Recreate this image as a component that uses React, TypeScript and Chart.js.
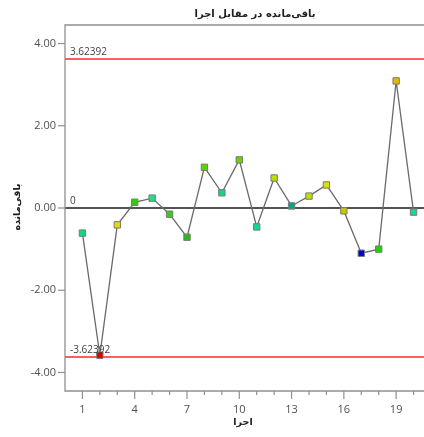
import { useEffect, useRef } from 'react';
import { Chart, registerables } from 'chart.js';

Chart.register(...registerables);

const runs = [1, 2, 3, 4, 5, 6, 7, 8, 9, 10, 11, 12, 13, 14, 15, 16, 17, 18, 19, 20];
const residuals = [-0.61, -3.58, -0.41, 0.14, 0.24, -0.15, -0.71, 0.99, 0.37, 1.17, -0.46, 0.73, 0.05, 0.29, 0.56, -0.07, -1.1, -1.0, 3.09, -0.1];
const pointColors = [
  '#10d880', '#e00000', '#e8d800', '#30d000', '#20e080', '#30d010', '#20c010', '#60d000', '#10d880', '#70d000',
  '#10d890', '#b8e000', '#00a888', '#c0e000', '#d8e000', '#c8c800', '#0000d0', '#20d000', '#e8b800', '#10d8a0',
];
const upperLimit = 3.62392;
const lowerLimit = -3.62392;
const centerLine = 0;
const xLabeledTicks = [1, 4, 7, 10, 13, 16, 19];
const yTickValues = [-4, -2, 0, 2, 4];
const chartTitle = 'باقی‌مانده در مقابل اجرا';
const xTitle = 'اجرا';
const yTitle = 'باقی‌مانده';

const CANVAS_W = 440;
const CANVAS_H = 437;

export default function App() {
  const ref = useRef<HTMLCanvasElement | null>(null);

  useEffect(() => {
    if (!ref.current) return;
    const axisPlugin = {
      id: 'customAxes',
      afterDraw(chart: any) {
        const ctx = chart.ctx as CanvasRenderingContext2D;
        const a = chart.chartArea;
        const xs = chart.scales.x;
        const ys = chart.scales.y;
        ctx.save();
        // frame
        ctx.strokeStyle = '#909090';
        ctx.lineWidth = 1.3;
        ctx.beginPath();
        ctx.moveTo(a.right + 20, a.top);
        ctx.lineTo(a.left, a.top);
        ctx.lineTo(a.left, a.bottom);
        ctx.lineTo(a.right + 20, a.bottom);
        ctx.stroke();
        // y ticks
        ctx.fillStyle = '#505050';
        ctx.font = '11px "Open Sans", "Noto Sans", sans-serif';
        ctx.textAlign = 'right';
        ctx.textBaseline = 'middle';
        ctx.lineWidth = 1.2;
        yTickValues.forEach((v) => {
          const py = ys.getPixelForValue(v);
          ctx.beginPath();
          ctx.moveTo(a.left - 7, py);
          ctx.lineTo(a.left, py);
          ctx.stroke();
          ctx.fillText(v.toFixed(2), a.left - 9, py);
        });
        // x ticks
        ctx.textAlign = 'center';
        ctx.textBaseline = 'top';
        runs.forEach((r) => {
          const px = xs.getPixelForValue(r);
          const major = xLabeledTicks.includes(r);
          ctx.beginPath();
          ctx.moveTo(px, a.bottom);
          ctx.lineTo(px, a.bottom + (major ? 8 : 4));
          ctx.stroke();
          if (major) ctx.fillText(String(r), px, a.bottom + 13);
        });
        // reference labels
        ctx.fillStyle = '#404040';
        ctx.font = '10px "Open Sans", "Noto Sans", sans-serif';
        ctx.textAlign = 'left';
        ctx.textBaseline = 'alphabetic';
        const refLabels: [number, string][] = [
          [upperLimit, String(upperLimit)],
          [lowerLimit, String(lowerLimit)],
          [centerLine, String(centerLine)],
        ];
        refLabels.forEach(([v, t]) => {
          ctx.fillText(t, a.left + 5, ys.getPixelForValue(v) - 4);
        });
        // titles
        ctx.fillStyle = '#202020';
        ctx.font = 'bold 10px "DejaVu Sans", sans-serif';
        ctx.textAlign = 'center';
        ctx.textBaseline = 'middle';
        ctx.fillText(chartTitle, 255, 14);
        ctx.font = 'bold 9.5px "DejaVu Sans", sans-serif';
        ctx.fillText(xTitle, 243, 423);
        ctx.translate(18, 207);
        ctx.rotate(-Math.PI / 2);
        ctx.fillText(yTitle, 0, 0);
        ctx.restore();
      },
    };

    const chart = new Chart(ref.current, {
      type: 'scatter',
      data: {
        datasets: [
          {
            label: 'residuals',
            data: runs.map((r, i) => ({ x: r, y: residuals[i] })),
            showLine: true,
            borderColor: '#6a6a6a',
            borderWidth: 1.3,
            pointStyle: 'rect',
            pointRadius: 4.5,
            pointBackgroundColor: pointColors,
            pointBorderColor: '#7a7a7a',
            pointBorderWidth: 1,
            order: 0,
          },
          {
            label: 'upper',
            data: [{ x: 0, y: upperLimit }, { x: 21, y: upperLimit }],
            showLine: true,
            borderColor: '#ff2828',
            borderWidth: 1.6,
            pointRadius: 0,
            order: 2,
          },
          {
            label: 'lower',
            data: [{ x: 0, y: lowerLimit }, { x: 21, y: lowerLimit }],
            showLine: true,
            borderColor: '#ff2828',
            borderWidth: 1.6,
            pointRadius: 0,
            order: 2,
          },
          {
            label: 'center',
            data: [{ x: 0, y: centerLine }, { x: 21, y: centerLine }],
            showLine: true,
            borderColor: '#1a1a1a',
            borderWidth: 1.6,
            pointRadius: 0,
            order: 1,
          },
        ],
      },
      options: {
        animation: false,
        responsive: false,
        layout: { padding: { left: 65, top: 25, right: CANVAS_W - 431, bottom: CANVAS_H - 391 } },
        plugins: { legend: { display: false }, title: { display: false }, tooltip: { enabled: false } },
        scales: {
          x: { type: 'linear', min: 0, max: 21, display: false },
          y: { type: 'linear', min: -4.45, max: 4.45, display: false },
        },
      },
      plugins: [axisPlugin],
    });
    return () => chart.destroy();
  }, []);

  return (
    <div style={{ position: 'fixed', left: 0, top: 0, width: 424, height: 437, overflow: 'hidden', background: '#fff' }}>
      <canvas ref={ref} width={CANVAS_W} height={CANVAS_H} style={{ width: CANVAS_W, height: CANVAS_H, display: 'block' }} />
    </div>
  );
}
